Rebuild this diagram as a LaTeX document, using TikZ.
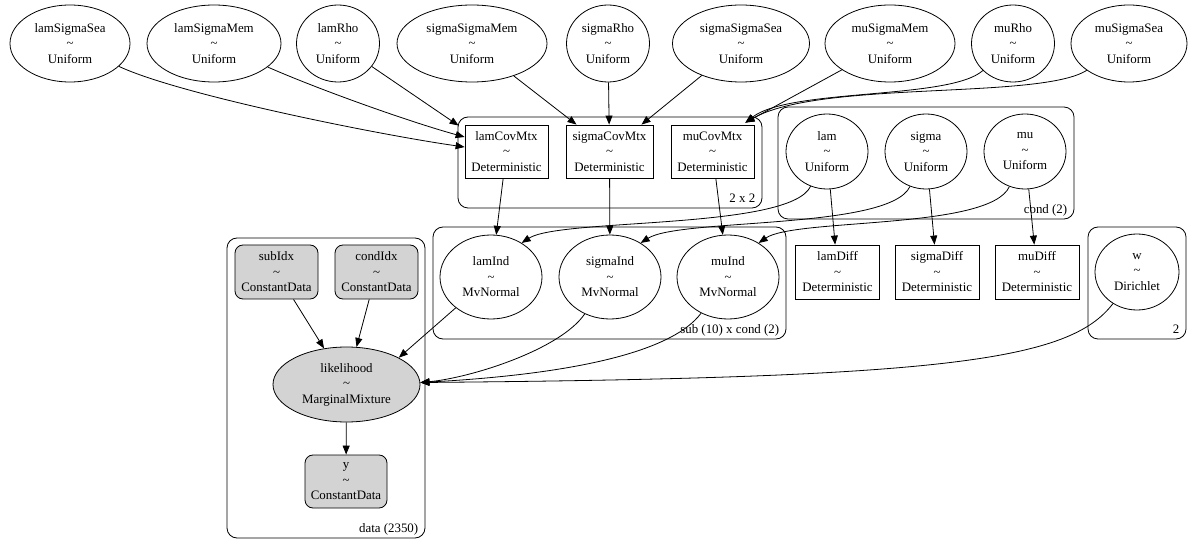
\documentclass[tikz,border=0pt]{standalone}
\usepackage{fontspec}
\setmainfont{Liberation Serif}
\usetikzlibrary{shapes.geometric,arrows.meta}
\definecolor{obsgray}{HTML}{D3D3D3}

\begin{document}
\begin{tikzpicture}[x=1pt, y=-1pt, >={Triangle[length=9pt,width=7pt]},
  every node/.style={font=\fontsize{12.9}{15.5}\selectfont, align=center, inner sep=0pt},
  rv/.style={ellipse, draw, line width=0.8pt, minimum height=77},
  det/.style={rectangle, draw, line width=0.8pt, minimum width=83, minimum height=53},
  obs/.style={rectangle, draw, line width=0.8pt, rounded corners=8pt, fill=obsgray, minimum width=83, minimum height=54},
  plate/.style={rectangle, draw, line width=0.8pt, rounded corners=10pt},
  platelabel/.style={anchor=base east},
  edge/.style={->, line width=0.8pt}]
\useasboundingbox (0,0) rectangle (1200,545);

% Hyperpriors (top row)
\node (lamSigmaSea) [rv, minimum width=120] at (70,43.5) {lamSigmaSea\\\textasciitilde\\Uniform};
\node (lamSigmaMem) [rv, minimum width=134] at (214,43.5) {lamSigmaMem\\\textasciitilde\\Uniform};
\node (lamRho) [rv, minimum width=83] at (338,43.5) {lamRho\\\textasciitilde\\Uniform};
\node (sigmaSigmaMem) [rv, minimum width=150] at (472,43.5) {sigmaSigmaMem\\\textasciitilde\\Uniform};
\node (sigmaRho) [rv, minimum width=83] at (608,43.5) {sigmaRho\\\textasciitilde\\Uniform};
\node (sigmaSigmaSea) [rv, minimum width=137] at (741,43.5) {sigmaSigmaSea\\\textasciitilde\\Uniform};
\node (muSigmaMem) [rv, minimum width=130] at (890,43.5) {muSigmaMem\\\textasciitilde\\Uniform};
\node (muRho) [rv, minimum width=83] at (1013,43.5) {muRho\\\textasciitilde\\Uniform};
\node (muSigmaSea) [rv, minimum width=116] at (1129,43.5) {muSigmaSea\\\textasciitilde\\Uniform};

% Plate 2 x 2
\node (plateCov) [plate, minimum width=304, minimum height=91] at (610,162.5) {};
\node [platelabel] at ([xshift=-7pt,yshift=6pt]plateCov.south east) {2 x 2};
\node (lamCovMtx) [det] at (506.5,151.5) {lamCovMtx\\\textasciitilde\\Deterministic};
\node (sigmaCovMtx) [det, minimum width=87] at (609.5,151.5) {sigmaCovMtx\\\textasciitilde\\Deterministic};
\node (muCovMtx) [det] at (712.5,151.5) {muCovMtx\\\textasciitilde\\Deterministic};

% Plate cond (2)
\node (plateCond) [plate, minimum width=296, minimum height=112] at (926,163) {};
\node [platelabel] at ([xshift=-7pt,yshift=6pt]plateCond.south east) {cond (2)};
\node (lam) [rv, minimum width=82, minimum height=75] at (827,151.5) {lam\\\textasciitilde\\Uniform};
\node (sigma) [rv, minimum width=82, minimum height=75] at (926,151.5) {sigma\\\textasciitilde\\Uniform};
\node (mu) [rv, minimum width=82, minimum height=75] at (1025,151.5) {mu\\\textasciitilde\\Uniform};

% Plate sub (10) x cond (2)
\node (plateSub) [plate, minimum width=353, minimum height=112] at (609.5,283) {};
\node [platelabel] at ([xshift=-7pt,yshift=6pt]plateSub.south east) {sub (10) x cond (2)};
\node (lamInd) [rv, minimum width=102, minimum height=84] at (491,277) {lamInd\\\textasciitilde\\MvNormal};
\node (sigmaInd) [rv, minimum width=102, minimum height=84] at (610,277) {sigmaInd\\\textasciitilde\\MvNormal};
\node (muInd) [rv, minimum width=102, minimum height=84] at (728,277) {muInd\\\textasciitilde\\MvNormal};

% Differences
\node (lamDiff) [det, minimum width=84, minimum height=54] at (837.5,272) {lamDiff\\\textasciitilde\\Deterministic};
\node (sigmaDiff) [det, minimum width=84, minimum height=54] at (937,272) {sigmaDiff\\\textasciitilde\\Deterministic};
\node (muDiff) [det, minimum width=84, minimum height=54] at (1037,272) {muDiff\\\textasciitilde\\Deterministic};

% Plate 2
\node (plateW) [plate, minimum width=98, minimum height=112] at (1137,283) {};
\node [platelabel] at ([xshift=-7pt,yshift=6pt]plateW.south east) {2};
\node (w) [rv, minimum width=84, minimum height=76] at (1137,272) {w\\\textasciitilde\\Dirichlet};

% Plate data (2350)
\node (plateData) [plate, minimum width=198, minimum height=300] at (326,388) {};
\node [platelabel] at ([xshift=-7pt,yshift=6pt]plateData.south east) {data (2350)};
\node (subIdx) [obs] at (276.5,272) {subIdx\\\textasciitilde\\ConstantData};
\node (condIdx) [obs] at (376.5,272) {condIdx\\\textasciitilde\\ConstantData};
\node (likelihood) [rv, fill=obsgray, minimum width=147, minimum height=75] at (346.5,384.5) {likelihood\\\textasciitilde\\MarginalMixture};
\node (y) [obs, minimum width=82, minimum height=53] at (346,481.5) {y\\\textasciitilde\\ConstantData};

% Edges into the covariance matrices
\draw [edge] (lamSigmaSea) .. controls (180,95) and (380,135) .. ([yshift=4.5pt]lamCovMtx.west);
\draw [edge] (lamSigmaMem) .. controls (320,90) and (410,122) .. ([yshift=14.5pt]lamCovMtx.west);
\draw [edge] (lamRho) -- ([xshift=-6pt,yshift=-1pt]lamCovMtx.north west);
\draw [edge] (sigmaSigmaMem) -- ([xshift=-33pt]sigmaCovMtx.north);
\draw [edge] (sigmaRho) -- (sigmaCovMtx);
\draw [edge] (sigmaSigmaSea) -- ([xshift=32pt]sigmaCovMtx.north);
\draw [edge] (muSigmaMem) -- ([xshift=-9pt,yshift=2pt]muCovMtx.north east);
\draw [edge] (muRho) .. controls (950,100) and (790,88) .. ([xshift=-9pt,yshift=2pt]muCovMtx.north east);
\draw [edge] (muSigmaSea) .. controls (1040,100) and (820,80) .. ([xshift=-9pt,yshift=2pt]muCovMtx.north east);

% Edges into the individual effects
\draw [edge] (lamCovMtx) -- (lamInd);
\draw [edge] (sigmaCovMtx) -- (sigmaInd);
\draw [edge] (muCovMtx) -- (muInd);
\draw [edge] (lam) .. controls (790,230) and (560,218) .. (lamInd.48);
\draw [edge] (sigma) .. controls (890,230) and (680,218) .. (sigmaInd.48);
\draw [edge] (mu) .. controls (990,230) and (795,218) .. (muInd.48);
\draw [edge] (lam) -- (lamDiff);
\draw [edge] (sigma) -- (sigmaDiff);
\draw [edge] (mu) -- (muDiff);

% Edges into the likelihood
\draw [edge] (subIdx) -- (likelihood);
\draw [edge] (condIdx) -- (likelihood);
\draw [edge] (lamInd) -- (likelihood.north east);
\draw [edge] (sigmaInd) .. controls (560,350) and (470,378) .. ([yshift=2pt]likelihood.east);
\draw [edge] (muInd) .. controls (670,355) and (560,375) .. ([yshift=2pt]likelihood.east);
\draw [edge] (w) .. controls (1070,360) and (950,378) .. ([yshift=2pt]likelihood.east);
\draw [edge] (likelihood) -- (y);
\end{tikzpicture}
\end{document}
